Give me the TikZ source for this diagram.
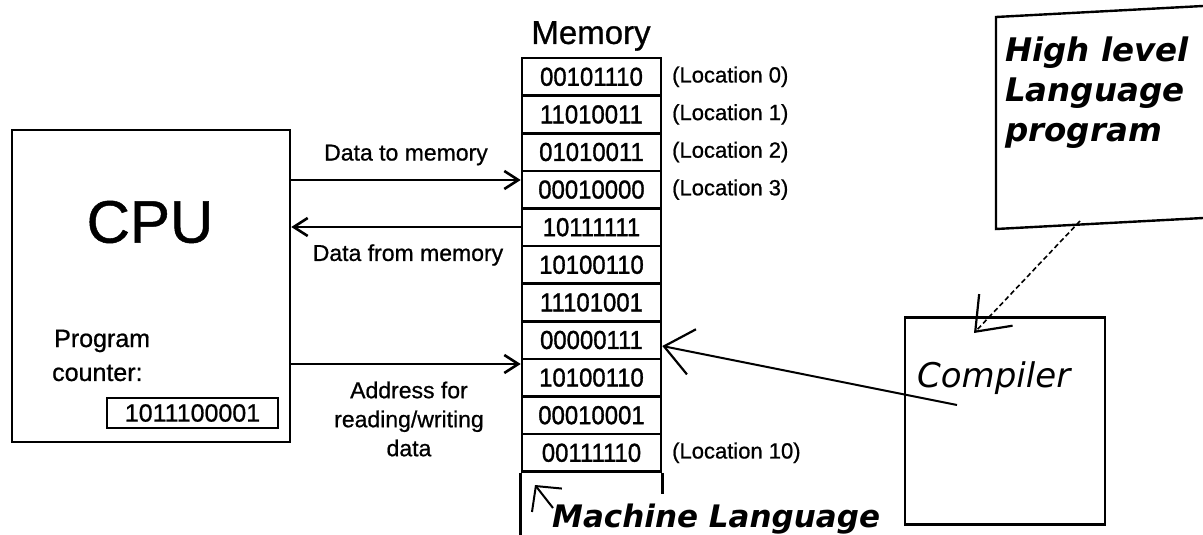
\documentclass[tikz,border=0pt]{standalone}
\usepackage{fontspec}
\setmainfont{Liberation Sans}[FakeBold=0.8]
\newfontfamily\narrowfont[FakeStretch=0.92,FakeBold=1.2]{Liberation Sans}
\newfontfamily\oblfont{DejaVu Sans}
\usetikzlibrary{arrows.meta}
\tikzset{
  boxline/.style={draw, line width=2.6pt},
  cell/.style={draw, line width=2.6pt, minimum width=139pt, minimum height=37.6pt, inner sep=0pt,
    font=\narrowfont\fontsize{26}{28}\selectfont},
  loclabel/.style={anchor=west, inner sep=0pt, font=\fontsize{22}{24}\selectfont},
  arrlabel/.style={inner sep=0pt, font=\fontsize{23}{29}\selectfont, align=center},
  dataarrow/.style={line width=2.2pt, -{Straight Barb[length=14pt,width=18pt,line width=2.6pt]}},
  bigbarb/.style={line width=2pt, -{Straight Barb[length=28pt,width=46pt,line width=2.2pt]}},
  slanted/.style={inner sep=0pt, font=\oblfont\itshape\fontsize{34}{40}\selectfont},
  slantedbold/.style={inner sep=0pt, font=\oblfont\bfseries\itshape\fontsize{31}{40}\selectfont},
}
\begin{document}
\begin{tikzpicture}[x=1pt,y=-1pt]
\useasboundingbox (0,0) rectangle (1203,535);
\fill[white] (0,0) rectangle (1203,535);

% CPU
\node[boxline, minimum width=278pt, minimum height=312pt] (cpu) at (151,286) {};
\node[inner sep=0pt, font=\fontsize{60}{64}\selectfont] (cputext) at (150,222) {CPU};
\node[anchor=west, inner sep=0pt, font=\fontsize{25}{28}\selectfont] (prog) at (54,341) {Program};
\node[anchor=west, inner sep=0pt, font=\fontsize{25}{28}\selectfont] (counter) at (52,373) {counter:};
\node[draw, line width=2.2pt, minimum width=171pt, minimum height=30pt, inner sep=0pt,
      font=\fontsize{25}{28}\selectfont] (pc) at (192.5,413) {1011100001};

% Memory
\node[inner sep=0pt, font=\fontsize{33}{36}\selectfont] (memtitle) at (591,36) {Memory};
\foreach \v [count=\i from 0] in {00101110,11010011,01010011,00010000,10111111,10100110,11101001,00000111,10100110,00010001,00111110}{
  \node[cell] (m\i) at (591.5,{76.8+37.6*\i}) {\v};
}
\draw[line width=2.6pt] (m10.south west) -- ++(0,64);
\draw[line width=2.6pt] (m10.south east) -- ++(0,21);

\node[loclabel] (l0) at (m0 -| 672,0) {(Location 0)};
\node[loclabel] (l1) at (m1 -| 672,0) {(Location 1)};
\node[loclabel] (l2) at (m2 -| 672,0) {(Location 2)};
\node[loclabel] (l3) at (m3 -| 672,0) {(Location 3)};
\node[loclabel] (l10) at (m10 -| 672,0) {(Location 10)};

% CPU <-> memory arrows
\draw[dataarrow] (cpu.east |- 0,180) -- (m3.west |- 0,180);
\draw[dataarrow] (m4.west |- 0,227) -- (cpu.east |- 0,227);
\draw[dataarrow] (cpu.east |- 0,364) -- (m8.west |- 0,364);
\node[arrlabel] (lab1) at (406,155) {Data to memory};
\node[arrlabel] (lab2) at (408,255) {Data from memory};
\node[arrlabel] (lab3) at (409,419) {Address for\\reading/writing\\data};

% Machine language
\node[slantedbold, anchor=base west] (ml) at (552,527) {Machine Language};
\coordinate (mlfrom) at (553,508);
\coordinate (mlto) at (535,485);
\draw[line width=2pt, -{Straight Barb[length=18pt,width=38pt,line width=2pt]}] (mlfrom) -- (mlto);

% High level language program box
\coordinate (hl1) at (1203,6);
\coordinate (hl2) at (996,17);
\coordinate (hl3) at (996,229);
\coordinate (hl4) at (1203,218);
\draw[line width=2.4pt] (hl1) -- (hl2) -- (hl3) -- (hl4);
\node[slantedbold, anchor=base west, font=\oblfont\bfseries\itshape\fontsize{32.5}{40}\selectfont] (hlt1) at (1005,62) {High level};
\node[slantedbold, anchor=base west, font=\oblfont\bfseries\itshape\fontsize{32.5}{40}\selectfont] (hlt2) at (1005,102) {Language};
\node[slantedbold, anchor=base west, font=\oblfont\bfseries\itshape\fontsize{32.5}{40}\selectfont] (hlt3) at (1005,142) {program};

% Compiler
\node[draw, line width=2.2pt, minimum width=200pt, minimum height=207pt] (comp) at (1005,421) {};
\node[slanted, anchor=base west] (comptext) at (917,387) {Compiler};

\coordinate (hlb) at (1080,221);
\coordinate (comptop) at (974,333);
\draw[line width=1.6pt, dashed, dash pattern=on 5pt off 3pt, -{Straight Barb[length=30pt,width=46pt,line width=2.2pt]}] (hlb) -- (comptop);

\coordinate (compin) at (957,405);
\draw[bigbarb] (compin) -- (m7.east |- 0,346);
\end{tikzpicture}
\end{document}
